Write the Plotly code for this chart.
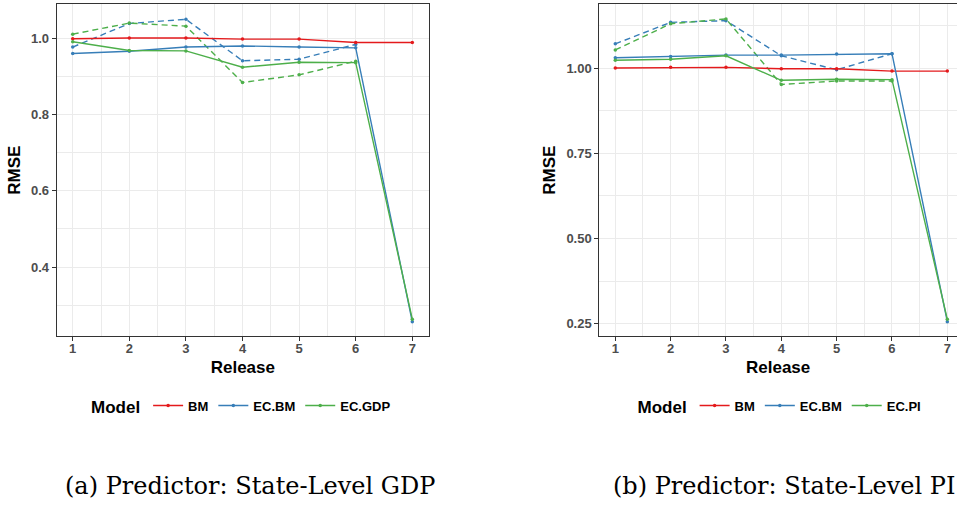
import plotly.graph_objects as go

releases = [1, 2, 3, 4, 5, 6, 7]
releases_dash = [1, 2, 3, 4, 5, 6]

# Panel (a): State-Level GDP
gdp_bm = [1.000, 1.002, 1.002, 0.999, 0.999, 0.990, 0.990]
gdp_ecbm = [0.961, 0.967, 0.978, 0.981, 0.978, 0.976, 0.256]
gdp_ecgdp = [0.992, 0.969, 0.968, 0.925, 0.938, 0.937, 0.263]
gdp_ecbm_dash = [0.978, 1.040, 1.051, 0.942, 0.946, 0.985]
gdp_ecgdp_dash = [1.012, 1.041, 1.033, 0.885, 0.905, 0.941]

# Panel (b): State-Level PI
pi_bm = [1.000, 1.002, 1.002, 0.998, 0.998, 0.991, 0.991]
pi_ecbm = [1.030, 1.034, 1.038, 1.038, 1.041, 1.042, 0.256]
pi_ecpi = [1.023, 1.026, 1.036, 0.964, 0.967, 0.966, 0.263]
pi_ecbm_dash = [1.071, 1.134, 1.139, 1.036, 0.995, 1.042]
pi_ecpi_dash = [1.053, 1.130, 1.144, 0.952, 0.962, 0.962]

RED, BLUE, GREEN = "#E41A1C", "#377EB8", "#4DAF4A"
SANS = "Liberation Sans, Arial, sans-serif"

W, H = 957, 505


def px(x):
    return x / W


def py(y):
    return (H - y) / H


fig = go.Figure()


def add(x, y, color, name, xa, ya, legend, dash="solid", show=True):
    fig.add_trace(go.Scatter(
        x=x, y=y, mode="lines+markers", name=name,
        line=dict(color=color, width=1.4, dash=dash),
        marker=dict(color=color, size=3.5, symbol="circle"),
        xaxis=xa, yaxis=ya, legend=legend, showlegend=show,
    ))


# left panel
add(releases_dash, gdp_ecbm_dash, BLUE, "EC.BM", "x", "y", "legend", dash="6px,4px", show=False)
add(releases_dash, gdp_ecgdp_dash, GREEN, "EC.GDP", "x", "y", "legend", dash="6px,4px", show=False)
add(releases, gdp_bm, RED, "BM", "x", "y", "legend")
add(releases, gdp_ecbm, BLUE, "EC.BM", "x", "y", "legend")
add(releases, gdp_ecgdp, GREEN, "EC.GDP", "x", "y", "legend")

# right panel
add(releases_dash, pi_ecbm_dash, BLUE, "EC.BM", "x2", "y2", "legend2", dash="6px,4px", show=False)
add(releases_dash, pi_ecpi_dash, GREEN, "EC.PI", "x2", "y2", "legend2", dash="6px,4px", show=False)
add(releases, pi_bm, RED, "BM", "x2", "y2", "legend2")
add(releases, pi_ecbm, BLUE, "EC.BM", "x2", "y2", "legend2")
add(releases, pi_ecpi, GREEN, "EC.PI", "x2", "y2", "legend2")

tickfont = dict(family=SANS, size=13, color="#4D4D4D", weight="bold")
titlefont = dict(family=SANS, size=17, color="black", weight="bold")


def xaxis(domain, rng, mirror):
    return dict(
        domain=domain, range=rng, tickmode="linear", tick0=1, dtick=1,
        ticks="outside", ticklen=4, tickcolor="#333333", tickwidth=1,
        ticklabelstandoff=-4,
        showline=True, linecolor="#333333", linewidth=1, mirror=mirror,
        showgrid=True, gridcolor="#EBEBEB", gridwidth=1, zeroline=False,
        minor=dict(dtick=0.5, tick0=0.5, showgrid=True, gridcolor="#EBEBEB", gridwidth=0.6),
        tickfont=tickfont, title=dict(text="Release", font=titlefont, standoff=6),
        automargin=False,
    )


def yaxis(domain, rng, tick0, dtick, fmt, anchor, mirror):
    return dict(
        domain=domain, range=rng, tickmode="linear", tick0=tick0, dtick=dtick,
        tickformat=fmt, anchor=anchor,
        ticks="outside", ticklen=4, tickcolor="#333333", tickwidth=1,
        showline=True, linecolor="#333333", linewidth=1, mirror=mirror,
        showgrid=True, gridcolor="#EBEBEB", gridwidth=1, zeroline=False,
        minor=dict(dtick=dtick / 2, tick0=tick0, showgrid=True, gridcolor="#EBEBEB", gridwidth=0.6),
        tickfont=tickfont, title=dict(text="RMSE", font=titlefont, standoff=6),
        automargin=False,
    )


ydom = [py(336), py(4.3)]
legend_common = dict(
    orientation="h", y=py(407), yanchor="middle",
    title=dict(text="Model", font=titlefont, side="left"),
    font=dict(family=SANS, size=13, color="black", weight="bold"),
    itemwidth=30, bgcolor="rgba(0,0,0,0)",
)
fig.update_layout(
    width=W, height=H, margin=dict(l=0, r=0, t=0, b=0, autoexpand=False),
    paper_bgcolor="white", plot_bgcolor="white",
    xaxis=xaxis([px(56.7), px(429)], [0.717, 7.295], True) | dict(anchor="y"),
    yaxis=yaxis(ydom, [0.2187, 1.0904], 0.4, 0.2, ".1f", "x", True),
    xaxis2=xaxis([px(599.3), 1.0], [0.711, 7.175], True) | dict(anchor="y2"),
    yaxis2=yaxis(ydom, [0.214, 1.187], 0.25, 0.25, ".2f", "x2", False),
    legend=legend_common | dict(x=px(242.5), xanchor="center"),
    legend2=legend_common | dict(x=px(781), xanchor="center"),
    showlegend=True,
)

capfont = dict(family="DejaVu Serif, serif", size=24, color="black")
fig.add_annotation(text="(a) Predictor: State-Level GDP", xref="paper", yref="paper",
                   x=px(63), xanchor="left", y=py(486), yanchor="middle",
                   showarrow=False, font=capfont)
fig.add_annotation(text="(b) Predictor: State-Level PI", xref="paper", yref="paper",
                   x=px(611), xanchor="left", y=py(486), yanchor="middle",
                   showarrow=False, font=capfont)

fig.write_html(
    "out.html",
    config={"displayModeBar": False},
    post_script="document.body.style.margin='0';document.body.style.overflow='hidden';",
)
